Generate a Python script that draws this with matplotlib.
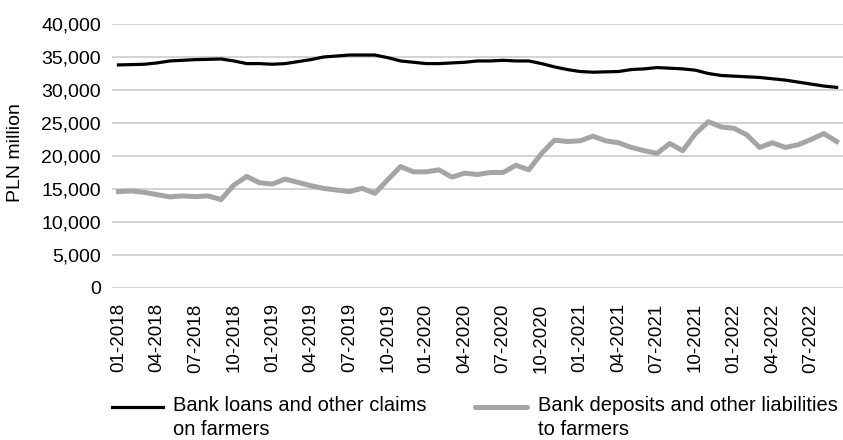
import matplotlib.pyplot as plt
from matplotlib.lines import Line2D
import numpy as np

plt.rcParams['font.family'] = ['Liberation Sans', 'DejaVu Sans']

# monthly values, 01-2018 .. 09-2022, PLN million
months = [f"{m:02d}-{y}" for y in range(2018, 2023) for m in range(1, 13)][:57]

loans = [33.8, 33.85, 33.9, 34.1, 34.4, 34.5, 34.6, 34.65, 34.7, 34.4,
         34.0, 34.0, 33.9, 34.0, 34.3, 34.6, 35.0, 35.15, 35.3, 35.3,
         35.3, 34.9, 34.4, 34.2, 34.0, 34.0, 34.1, 34.2, 34.4, 34.4,
         34.5, 34.4, 34.4, 34.0, 33.5, 33.1, 32.8, 32.7, 32.75, 32.8,
         33.1, 33.2, 33.4, 33.3, 33.2, 33.0, 32.5, 32.2, 32.1, 32.0,
         31.9, 31.7, 31.5, 31.2, 30.9, 30.6, 30.4]
deposits = [14.6, 14.7, 14.5, 14.15, 13.8, 13.95, 13.85, 13.95, 13.4, 15.6,
            16.9, 15.95, 15.75, 16.5, 16.0, 15.5, 15.1, 14.85, 14.6, 15.1,
            14.35, 16.4, 18.4, 17.6, 17.6, 17.9, 16.8, 17.4, 17.2, 17.5,
            17.5, 18.6, 17.9, 20.4, 22.4, 22.2, 22.3, 23.0, 22.3, 22.0,
            21.3, 20.8, 20.4, 21.9, 20.8, 23.4, 25.2, 24.4, 24.2, 23.2,
            21.3, 22.0, 21.3, 21.7, 22.5, 23.4, 22.2]

loans = np.array(loans) * 1000
deposits = np.array(deposits) * 1000
x = np.arange(len(months))

fig = plt.figure(figsize=(8.43, 4.40), dpi=100)
ax = fig.add_axes([112 / 843, 152 / 440, 731 / 843, 264 / 440])

ax.plot(x, deposits, color='#a5a5a5', lw=3.6, solid_joinstyle='round')
ax.plot(x, loans, color='black', lw=2.3, solid_joinstyle='round')

ax.set_xlim(-0.5, len(months) - 0.5)
ax.set_ylim(0, 40000)
ax.set_yticks(range(0, 40001, 5000))
ax.set_yticklabels([f"{v:,}" for v in range(0, 40001, 5000)], fontsize=14)
ax.set_xticks(x[::3])
ax.set_xticklabels(months[::3], rotation=90, fontsize=13.5)
ax.tick_params(axis='both', length=0)
ax.tick_params(axis='x', pad=11)
ax.tick_params(axis='y', pad=8)

ax.grid(axis='y', color='#d0d0d0', lw=1.3)
ax.set_axisbelow(True)
for s in ax.spines.values():
    s.set_visible(False)

fig.text(16 / 843, 1 - 153 / 440, 'PLN million', rotation=90, fontsize=14,
         ha='center', va='center')

# legend below the axis, drawn by hand so the handle sits on the first text line
fig.add_artist(Line2D([112 / 843, 163 / 843], [1 - 407 / 440] * 2,
                      color='black', lw=2.3))
fig.text(173 / 843, 1 - 396 / 440, 'Bank loans and other claims\non farmers',
         fontsize=14.5, ha='left', va='top', linespacing=1.3)
fig.add_artist(Line2D([475 / 843, 527 / 843], [1 - 407 / 440] * 2,
                      color='#a5a5a5', lw=3.6, solid_capstyle='round'))
fig.text(538 / 843, 1 - 396 / 440, 'Bank deposits and other liabilities\nto farmers',
         fontsize=14.5, ha='left', va='top', linespacing=1.3)

fig.savefig('out.png', dpi=100)
